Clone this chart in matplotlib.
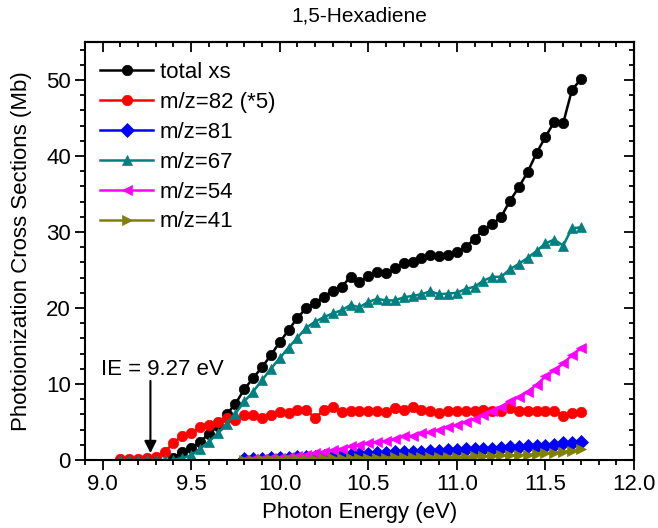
import matplotlib
matplotlib.use("Agg")
import matplotlib.pyplot as plt
from matplotlib.ticker import MultipleLocator

plt.rcParams['font.family'] = ['Liberation Sans', 'DejaVu Sans']

# ---------------- data ----------------
e_total = [9.40, 9.45, 9.50, 9.55, 9.60, 9.65, 9.70, 9.75, 9.80, 9.85, 9.90, 9.95,
           10.00, 10.05, 10.10, 10.15, 10.20, 10.25, 10.30, 10.35, 10.40, 10.45,
           10.50, 10.55, 10.60, 10.65, 10.70, 10.75, 10.80, 10.85, 10.90, 10.95,
           11.00, 11.05, 11.10, 11.15, 11.20, 11.25, 11.30, 11.35, 11.40, 11.45,
           11.50, 11.55, 11.60, 11.65, 11.70]
total_xs = [0.3, 1.0, 1.6, 2.4, 3.4, 4.5, 6.0, 7.4, 9.3, 10.8, 12.2, 13.8,
            15.5, 17.1, 18.7, 20.0, 20.7, 21.5, 22.3, 22.8, 24.1, 23.4,
            24.2, 24.7, 24.6, 25.2, 25.9, 26.1, 26.6, 27.0, 26.8, 27.0,
            27.4, 28.0, 29.1, 30.3, 31.0, 32.0, 34.1, 35.9, 37.9, 40.4,
            42.5, 44.5, 44.3, 48.7, 50.1]

e_long = [9.10, 9.15, 9.20, 9.25, 9.30, 9.35, 9.40, 9.45, 9.50, 9.55, 9.60, 9.65,
          9.70, 9.75, 9.80, 9.85, 9.90, 9.95, 10.00, 10.05, 10.10, 10.15, 10.20,
          10.25, 10.30, 10.35, 10.40, 10.45, 10.50, 10.55, 10.60, 10.65, 10.70,
          10.75, 10.80, 10.85, 10.90, 10.95, 11.00, 11.05, 11.10, 11.15, 11.20,
          11.25, 11.30, 11.35, 11.40, 11.45, 11.50, 11.55, 11.60, 11.65, 11.70]
mz82_x5 = [0.1, 0.1, 0.1, 0.2, 0.4, 1.1, 2.2, 3.2, 3.5, 4.3, 4.6, 5.0,
           5.5, 5.3, 5.9, 5.9, 5.5, 5.9, 6.3, 6.2, 6.6, 6.6, 5.5,
           6.6, 7.0, 6.3, 6.5, 6.5, 6.4, 6.4, 6.3, 6.8, 6.6,
           7.0, 6.6, 6.5, 6.2, 6.5, 6.5, 6.4, 6.5, 6.6, 6.4,
           6.4, 6.8, 6.4, 6.5, 6.5, 6.5, 6.4, 5.8, 6.2, 6.3]
mz67 = [0.0, 0.0, 0.0, 0.0, 0.0, 0.0, 0.0, 0.3, 0.6, 1.5, 2.4, 3.5,
        4.8, 6.1, 7.7, 9.0, 10.5, 12.0, 13.4, 14.8, 16.1, 17.4, 18.2,
        18.8, 19.3, 19.7, 20.4, 20.1, 20.8, 21.2, 21.0, 21.0, 21.4,
        21.6, 21.8, 22.2, 21.8, 21.9, 22.0, 22.5, 22.8, 23.6, 24.1,
        24.1, 25.1, 25.8, 26.6, 27.5, 28.5, 29.0, 28.2, 30.5, 30.6]

e_short = [9.80, 9.85, 9.90, 9.95, 10.00, 10.05, 10.10, 10.15, 10.20, 10.25,
           10.30, 10.35, 10.40, 10.45, 10.50, 10.55, 10.60, 10.65, 10.70, 10.75,
           10.80, 10.85, 10.90, 10.95, 11.00, 11.05, 11.10, 11.15, 11.20, 11.25,
           11.30, 11.35, 11.40, 11.45, 11.50, 11.55, 11.60, 11.65, 11.70]
mz81 = [0.1, 0.1, 0.15, 0.2, 0.25, 0.3, 0.35, 0.4, 0.45, 0.5,
        0.55, 0.6, 0.7, 0.8, 0.8, 0.9, 0.9, 1.0, 1.0, 1.1,
        1.1, 1.2, 1.2, 1.3, 1.3, 1.4, 1.4, 1.5, 1.5, 1.6,
        1.7, 1.7, 1.8, 1.9, 1.9, 2.0, 2.2, 2.2, 2.4]
mz54 = [0.05, 0.1, 0.15, 0.2, 0.3, 0.4, 0.5, 0.7, 0.9, 1.1,
        1.3, 1.5, 1.8, 2.0, 2.2, 2.4, 2.5, 2.7, 3.1, 3.2,
        3.5, 3.7, 4.0, 4.4, 4.6, 5.0, 5.4, 5.9, 6.4, 7.0,
        7.7, 8.3, 9.0, 9.9, 11.0, 11.8, 12.7, 13.8, 14.7]
mz41 = [0.05, 0.05, 0.1, 0.1, 0.1, 0.1, 0.15, 0.15, 0.15, 0.2,
        0.2, 0.2, 0.25, 0.3, 0.3, 0.3, 0.3, 0.35, 0.35, 0.35,
        0.4, 0.4, 0.4, 0.4, 0.45, 0.45, 0.5, 0.5, 0.55, 0.6,
        0.6, 0.65, 0.7, 0.8, 0.9, 0.95, 1.1, 1.2, 1.4]

labels = ['total xs', 'm/z=82 (*5)', 'm/z=81', 'm/z=67', 'm/z=54', 'm/z=41']
colors = ['#000000', '#ff0000', '#0000ff', '#008080', '#ff00ff', '#808000']
markers = ['o', 'o', 'D', '^', '<', '>']

# ---------------- figure ----------------
fig = plt.figure(figsize=(6.58, 5.28), dpi=100)
ax = fig.add_axes([0.129, 0.1288, 0.8345, 0.7917])

series = [(e_total, total_xs), (e_long, mz82_x5), (e_short, mz81),
          (e_long, mz67), (e_short, mz54), (e_short, mz41)]
msizes = [7.5, 7.5, 7.0, 7.5, 7.5, 7.5]
for (xs, ys), lab, c, m, ms in zip(series, labels, colors, markers, msizes):
    ax.plot(xs, ys, color=c, marker=m, markersize=ms, lw=1.8, label=lab,
            markeredgewidth=0.5, markeredgecolor=c)

ax.set_xlim(8.9, 12.0)
ax.set_ylim(0, 55)
ax.xaxis.set_major_locator(MultipleLocator(0.5))
ax.xaxis.set_minor_locator(MultipleLocator(0.1))
ax.yaxis.set_major_locator(MultipleLocator(10))
ax.yaxis.set_minor_locator(MultipleLocator(2))
ax.xaxis.set_major_formatter(plt.FuncFormatter(lambda v, p: f"{v:.1f}"))
ax.tick_params(which='major', direction='out', length=7, width=1.3, labelsize=16, pad=3)
ax.tick_params(which='minor', direction='out', length=3.5, width=1.3)
for s in ax.spines.values():
    s.set_linewidth(1.5)

# mirrored inward ticks on top/right
top = ax.secondary_xaxis('top')
top.xaxis.set_major_locator(MultipleLocator(0.5))
top.xaxis.set_minor_locator(MultipleLocator(0.1))
top.tick_params(which='major', direction='in', length=7, width=1.3, labeltop=False)
top.tick_params(which='minor', direction='in', length=3.5, width=1.3)
top.spines['top'].set_linewidth(1.5)
right = ax.secondary_yaxis('right')
right.yaxis.set_major_locator(MultipleLocator(10))
right.yaxis.set_minor_locator(MultipleLocator(2))
right.tick_params(which='major', direction='in', length=7, width=1.3, labelright=False)
right.tick_params(which='minor', direction='in', length=3.5, width=1.3)
right.spines['right'].set_linewidth(1.5)

ax.set_xlabel('Photon Energy (eV)', fontsize=16, labelpad=5)
ax.set_ylabel('Photoionization Cross Sections (Mb)', fontsize=16, labelpad=10)
ax.set_title('1,5-Hexadiene', fontsize=15, pad=15)

ax.annotate('', xy=(9.27, 0.9), xytext=(9.27, 10.4),
            arrowprops=dict(arrowstyle='-|>', color='k', lw=1.5,
                            mutation_scale=18, shrinkA=0, shrinkB=0))
ax.text(9.335, 11.9, 'IE = 9.27 eV', fontsize=16, ha='center', va='center')

ax.legend(loc='upper left', frameon=False, fontsize=16, handlelength=2.4,
          handletextpad=0.3, labelspacing=0.4, borderaxespad=0.5,
          bbox_to_anchor=(-0.009, 1.0))

fig.savefig('out.png', dpi=100)
